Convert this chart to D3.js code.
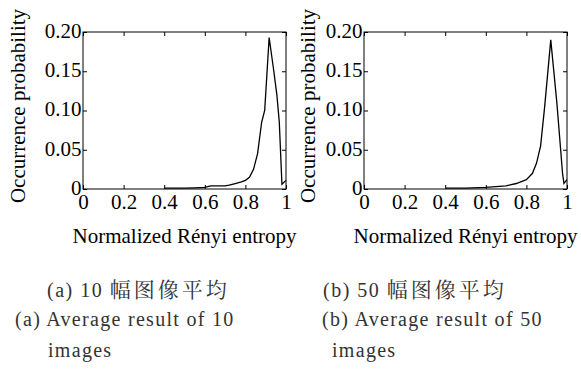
<html>
<head>
    <script src="https://d3js.org/d3.v7.min.js"></script>
</head>
<body style="margin:0">
    <script type="text/javascript">
        // histogram of normalized Renyi entropy
        var xA = [0.4, 0.45, 0.5, 0.55, 0.6, 0.63, 0.7, 0.72, 0.75, 0.78, 0.8, 0.82, 0.84, 0.86, 0.88, 0.895, 0.917, 0.94, 0.955, 0.967, 0.98, 1.0];
        var yA = [0.001, 0.001, 0.001, 0.0015, 0.002, 0.004, 0.004, 0.005, 0.007, 0.009, 0.011, 0.015, 0.025, 0.045, 0.085, 0.10, 0.193, 0.15, 0.12, 0.085, 0.006, 0.011];
        var xB = [0.4, 0.5, 0.6, 0.65, 0.7, 0.75, 0.8, 0.83, 0.85, 0.87, 0.89, 0.92, 0.95, 0.978, 0.985, 1.0];
        var yB = [0.001, 0.001, 0.002, 0.003, 0.004, 0.007, 0.012, 0.02, 0.033, 0.055, 0.105, 0.19, 0.11, 0.02, 0.007, 0.012];
        var xTicks = [0, 0.2, 0.4, 0.6, 0.8, 1];
        var yTicks = [0, 0.05, 0.10, 0.15, 0.20];
        var xLabel = "Normalized Rényi entropy";
        var yLabel = "Occurrence probability";

        var serif = "Liberation Serif";
        var zh = "Noto Serif CJK SC";

        var svg = d3.select("body").append("svg").attr("width", 581).attr("height", 375)
            .style("display", "block").style("background", "#fff");

        function panel(left, xs, ys, yTitleX) {
            var w = 203, top = 32, h = 157;
            var x = d3.scaleLinear().domain([0, 1]).range([left, left + w]);
            var y = d3.scaleLinear().domain([0, 0.2]).range([top + h, top]);
            var g = svg.append("g");

            g.append("rect").attr("x", left).attr("y", top).attr("width", w).attr("height", h)
                .attr("fill", "none").attr("stroke", "#000");

            g.append("g").attr("transform", "translate(0," + (top + h) + ")")
                .call(d3.axisBottom(x).tickValues(xTicks).tickSize(-4).tickPadding(5)
                    .tickFormat(function (d) { return d == 0 || d == 1 ? d3.format("d")(d) : d3.format(".1f")(d); }));
            g.append("g").attr("transform", "translate(0," + top + ")")
                .call(d3.axisTop(x).tickValues(xTicks).tickSize(-4).tickFormat(""));
            g.append("g").attr("class", "yax").attr("transform", "translate(" + left + ",0)")
                .call(d3.axisLeft(y).tickValues(yTicks).tickSize(-4).tickPadding(1.5)
                    .tickFormat(function (d) { return d == 0 ? "0" : d3.format(".2f")(d); }));
            g.append("g").attr("transform", "translate(" + (left + w) + ",0)")
                .call(d3.axisRight(y).tickValues(yTicks).tickSize(-4).tickFormat(""));
            g.selectAll(".domain").remove();
            g.selectAll("g").attr("font-family", serif).attr("font-size", 21);
            g.selectAll(".tick line").attr("stroke", "#000");
            g.selectAll(".tick text").attr("font-family", serif).attr("font-size", 21).attr("fill", "#000");
            g.selectAll(".yax .tick text").attr("dy", "0.25em");

            var line = d3.line().x(function (d, i) { return x(xs[i]); }).y(function (d) { return y(d); });
            g.append("path").attr("d", line(ys)).attr("fill", "none").attr("stroke", "#000").attr("stroke-width", 1.3);

            g.append("text").attr("x", left + w / 2).attr("y", 243)
                .attr("font-family", serif).attr("font-size", 21)
                .attr("text-anchor", "middle").text(xLabel);
            g.append("text").attr("text-anchor", "middle")
                .attr("font-family", serif).attr("font-size", 21)
                .attr("transform", "translate(" + yTitleX + ",106) rotate(-90)").text(yLabel);
        }

        panel(83, xA, yA, 25);
        panel(364, xB, yB, 315);

        function capText(x, y) {
            return svg.append("text").attr("x", x).attr("y", y).attr("fill", "#333")
                .attr("font-family", serif).attr("font-size", 20).attr("letter-spacing", 1.3);
        }
        function caption(x1, x2, x3, tag, n) {
            var t = capText(x1, 297);
            t.append("tspan").attr("letter-spacing", 1.5).text("(" + tag + ") " + n + " ");
            t.append("tspan").attr("font-family", zh).attr("font-size", 21).attr("letter-spacing", 3)
                .text("幅图像平均");
            capText(x2, 326).text("(" + tag + ") Average result of " + n);
            capText(x3, 357).text("images");
        }
        caption(47, 15, 48, "a", 10);
        caption(323, 322, 332, "b", 50);
    </script>
</body>
</html>
